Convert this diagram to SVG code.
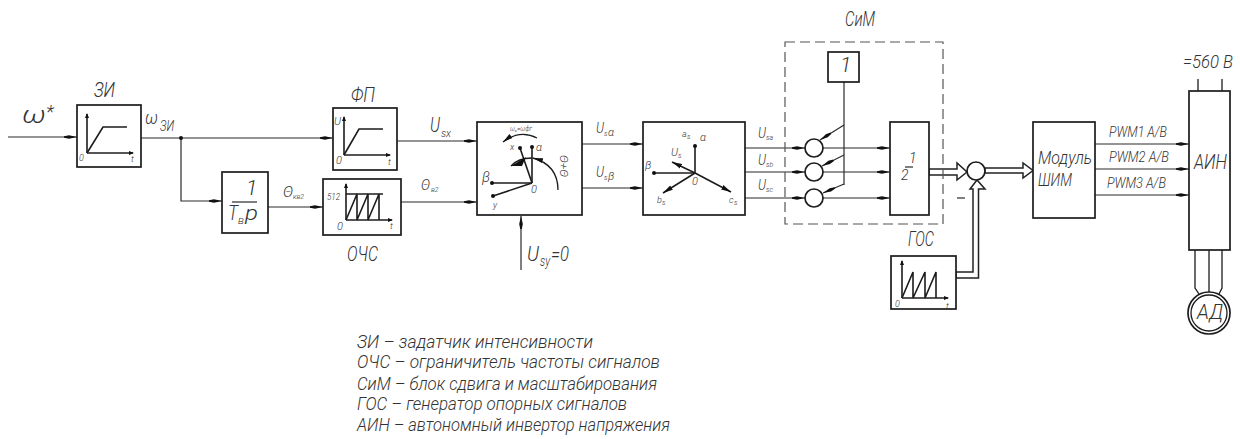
<svg xmlns="http://www.w3.org/2000/svg" width="1240" height="439" viewBox="0 0 1240 439">
<style>
text{font-family:"Roboto","Liberation Sans",sans-serif;font-style:italic;font-weight:300;fill:#333}
.f24{font-size:24px}.f20{font-size:21px}.f19{font-size:19px}.f17{font-size:18.500px}.f14{font-size:14px}.f11{font-size:11px}.f9{font-size:9px}.f7{font-size:7px}
.b{fill:#fff;stroke:#1c1c1c;stroke-width:1.7}
.l{fill:none;stroke:#2a2a2a;stroke-width:1.2}
.a{fill:none;stroke:#1c1c1c;stroke-width:1.3}
.g{fill:none;stroke:#1c1c1c;stroke-width:1.6}
.dbl{fill:#fff;stroke:#222;stroke-width:1.5}
.arr{marker-end:url(#ah)}
.ax{marker-end:url(#sm)}
.vec{marker-end:url(#vh)}
.dotv{marker-end:url(#dot)}
</style>
<defs>
<marker id="ah" markerUnits="userSpaceOnUse" markerWidth="14" markerHeight="6" refX="13" refY="3" orient="auto"><path d="M0 2.200L5 1.200L13 3L5 4.800L0 3.800Z" fill="#111"/></marker>
<marker id="sm" markerUnits="userSpaceOnUse" markerWidth="6" markerHeight="6" refX="4" refY="3" orient="auto"><path d="M0 1L5 3L0 5Z" fill="#111"/></marker>
<marker id="vh" markerUnits="userSpaceOnUse" markerWidth="12" markerHeight="8" refX="10" refY="4" orient="auto"><path d="M0 1.500L10 4L0 6.500Z" fill="#111"/></marker>
<marker id="dot" markerUnits="userSpaceOnUse" markerWidth="6" markerHeight="6" refX="3" refY="3"><circle cx="3" cy="3" r="2" fill="#111"/></marker>
</defs>
<g id="connectors">
<path class="l arr" d="M8 137H77"/>
<path class="l" d="M141 138H181"/>
<path class="l arr" d="M181 138H333"/>
<path class="l arr" d="M181 138V201H222"/>
<circle cx="181" cy="138" r="2" fill="#111"/>
<path class="l arr" d="M268 207H323"/>
<path class="l arr" d="M397 141H477"/>
<path class="l arr" d="M401 202H477"/>
<path class="l arr" d="M521 270V216"/>
<path class="l arr" d="M582 144H643"/>
<path class="l arr" d="M582 188H643"/>
<path class="l arr" d="M745 148H805"/>
<path class="l arr" d="M745 172H805"/>
<path class="l arr" d="M745 198H805"/>
<path class="l arr" d="M823 148H890"/>
<path class="l arr" d="M823 172H890"/>
<path class="l arr" d="M823 198H890"/>
<path class="l" d="M844 82V185"/>
<path class="l arr" d="M844 125L820 140"/>
<path class="l arr" d="M844 155L822 166"/>
<path class="l arr" d="M844 184L823 193"/>
<path class="dbl" d="M929 169H957V163L967 172L957 180V175H929Z"/>
<path class="dbl" d="M985 168H1023V163L1033 170.500L1023 178V173H985Z"/>
<path class="dbl" d="M956 272H973V189H970L977 180L985 189H978.500V278H956Z"/>
<path class="l arr" d="M1095 144H1189"/>
<path class="l arr" d="M1095 169H1189"/>
<path class="l arr" d="M1095 195H1189"/>
<path class="a" d="M1198 79V91M1222 79V91"/>
<path class="a" d="M1195 250V288L1199 294M1209 250V293M1222 250V288L1219 294"/>
</g>
<g id="node-zi">
<rect class="b" x="77" y="105" width="64" height="62"/>
<path class="g ax" d="M87 153V114"/><path class="g ax" d="M87 153H133"/><path class="g" d="M87 153L103 127H127"/>
<text class="f9" x="79" y="161">0</text><text class="f9" x="131" y="162">t</text>
<text class="f20" x="94" y="97" textLength="21" lengthAdjust="spacingAndGlyphs">ЗИ</text>
</g>
<g id="label-omega">
<text class="f24" x="22" y="123" textLength="24" lengthAdjust="spacingAndGlyphs">ω</text><text class="f17" x="46" y="118">*</text>
<text class="f19" x="145" y="124" textLength="13" lengthAdjust="spacingAndGlyphs">ω</text><text class="f14" x="160" y="131" textLength="14" lengthAdjust="spacingAndGlyphs">ЗИ</text>
</g>
<g id="node-int">
<rect class="b" x="222" y="172" width="46" height="61"/>
<path class="l" d="M232 202H257"/>
<text class="f20" x="246" y="195">1</text>
<text class="f20" x="228" y="220" textLength="10" lengthAdjust="spacingAndGlyphs">T</text><text class="f11" x="238" y="224" textLength="6" lengthAdjust="spacingAndGlyphs">в</text><text class="f20" x="245" y="220" textLength="13" lengthAdjust="spacingAndGlyphs">р</text>
</g>
<text class="f14" x="283" y="197" textLength="10" lengthAdjust="spacingAndGlyphs">Θ</text><text class="f7" x="293" y="199">кв2</text>
<g id="node-fp">
<rect class="b" x="333" y="108" width="64" height="62"/>
<path class="g ax" d="M344 155V117"/><path class="g ax" d="M344 155H390"/><path class="g" d="M344 155L359 129H383"/>
<text class="f11" x="334" y="125">U</text><text class="f11" x="336" y="164">0</text><text class="f9" x="388" y="165">t</text>
<text class="f20" x="351" y="102" textLength="24" lengthAdjust="spacingAndGlyphs">ФП</text>
</g>
<g id="node-ochs">
<rect class="b" x="323" y="179" width="78" height="56"/>
<path class="g ax" d="M346 220V184"/><path class="g ax" d="M346 220H392"/>
<path class="a" d="M346 194H383"/><path class="g" d="M346 220L357 194V220L368 194V220L379 194V220"/>
<text class="f9" x="327" y="200" textLength="13" lengthAdjust="spacingAndGlyphs">512</text><text class="f11" x="337" y="230">0</text><text class="f9" x="390" y="229">t</text>
<text class="f20" x="347" y="261" textLength="31" lengthAdjust="spacingAndGlyphs">ОЧС</text>
</g>
<text class="f20" x="430" y="132" textLength="10" lengthAdjust="spacingAndGlyphs">U</text><text class="f11" x="441" y="137" textLength="10" lengthAdjust="spacingAndGlyphs">sx</text>
<text class="f14" x="421" y="190" textLength="9" lengthAdjust="spacingAndGlyphs">Θ</text><text class="f7" x="431" y="192">в2</text>
<g id="node-abxy">
<rect class="b" x="477" y="122" width="105" height="93"/>
<path class="g dotv" d="M532 183V147"/><path class="g dotv" d="M532 183L520 148"/><path class="g dotv" d="M532 183H492"/><path class="g dotv" d="M532 183L493 196"/>
<path class="a vec" d="M537 138Q520 129 503 142"/>
<path class="a vec" d="M558 190Q558 165 533 158"/>
<path class="a" d="M532 158Q518 158 511 166"/>
<path d="M511 166L526 157L522 166Z" fill="#111"/>
<text class="f7" x="510" y="131" textLength="22" lengthAdjust="spacingAndGlyphs">ω₀=ωфг</text>
<text class="f9" x="510" y="150">x</text><text class="f11" x="536" y="151">α</text>
<text class="f14" x="482" y="182">β</text><text class="f9" x="493" y="208">y</text><text class="f11" x="531" y="193">0</text>
<text class="f11" transform="translate(560 155) rotate(90)" textLength="22" lengthAdjust="spacingAndGlyphs">Θ+Θ</text>
</g>
<text class="f20" x="527" y="261" textLength="12" lengthAdjust="spacingAndGlyphs">U</text><text class="f14" x="540" y="266" textLength="10" lengthAdjust="spacingAndGlyphs">sy</text><text class="f20" x="551" y="261" textLength="18" lengthAdjust="spacingAndGlyphs">=0</text>
<text class="f14" x="596" y="133" textLength="8" lengthAdjust="spacingAndGlyphs">U</text><text class="f7" x="604" y="136">s</text><text class="f11" x="608" y="136">α</text>
<text class="f14" x="596" y="177" textLength="8" lengthAdjust="spacingAndGlyphs">U</text><text class="f7" x="604" y="180">s</text><text class="f11" x="608" y="180">β</text>
<g id="node-abc">
<rect class="b" x="643" y="122" width="102" height="93"/>
<path class="g dotv" d="M695 173V146"/><path class="g dotv" d="M695 173H654"/>
<path class="g vec" d="M695 173L672 162"/><path class="g vec" d="M695 173L663 193"/><path class="g vec" d="M695 173L731 192"/>
<text class="f9" x="682" y="137">a</text><text class="f7" x="687" y="139">s</text><text class="f11" x="700" y="141">α</text>
<text class="f11" x="671" y="156">U</text><text class="f7" x="678" y="158">s</text><text class="f11" x="645" y="169">β</text><text class="f11" x="692" y="185">0</text>
<text class="f9" x="657" y="203">b</text><text class="f7" x="662" y="205">s</text><text class="f9" x="729" y="203">c</text><text class="f7" x="734" y="205">s</text>
</g>
<text class="f14" x="758" y="138" textLength="8" lengthAdjust="spacingAndGlyphs">U</text><text class="f7" x="766" y="140">sa</text>
<text class="f14" x="758" y="165" textLength="8" lengthAdjust="spacingAndGlyphs">U</text><text class="f7" x="766" y="167">sb</text>
<text class="f14" x="758" y="190" textLength="8" lengthAdjust="spacingAndGlyphs">U</text><text class="f7" x="766" y="192">sc</text>
<g id="node-sim">
<rect x="785" y="42" width="158" height="182" fill="none" stroke="#555" stroke-width="1.2" stroke-dasharray="10 5"/>
<text class="f20" x="845" y="26" textLength="30" lengthAdjust="spacingAndGlyphs">СиМ</text>
</g>
<g id="node-one"><rect class="b" x="828" y="52" width="31" height="30"/><text class="f20" x="840" y="72">1</text></g>
<g id="node-sum1"><circle class="b" cx="814" cy="148" r="9"/></g>
<g id="node-sum2"><circle class="b" cx="814" cy="172" r="9"/></g>
<g id="node-sum3"><circle class="b" cx="814" cy="198" r="9"/></g>
<g id="node-half">
<rect class="b" x="890" y="122" width="39" height="93"/>
<path class="l" d="M905 167H913"/>
<text class="f14" x="909" y="163">1</text><text class="f14" x="901" y="180">2</text>
</g>
<g id="node-sum"><circle class="b" cx="976" cy="171" r="9"/><path class="l" d="M957 198H965"/></g>
<g id="node-gos">
<rect class="b" x="891" y="256" width="65" height="53"/>
<path class="g ax" d="M902 298V261"/><path class="g ax" d="M902 298H948"/>
<path class="g" d="M902 298L913 272V298L925 272V298L936 272V298"/>
<text class="f9" x="895" y="307">0</text><text class="f9" x="946" y="309">t</text>
<text class="f20" x="908" y="246" textLength="26" lengthAdjust="spacingAndGlyphs">ГОС</text>
</g>
<g id="node-shim">
<rect class="b" x="1033" y="122" width="62" height="96"/>
<text class="f19" x="1038" y="164" textLength="54" lengthAdjust="spacingAndGlyphs">Модуль</text>
<text class="f19" x="1038" y="186" textLength="34" lengthAdjust="spacingAndGlyphs">ШИМ</text>
</g>
<text class="f14" x="1109" y="137" textLength="58" lengthAdjust="spacingAndGlyphs">PWM1 A/B</text>
<text class="f14" x="1109" y="162" textLength="60" lengthAdjust="spacingAndGlyphs">PWM2 A/B</text>
<text class="f14" x="1107" y="188" textLength="59" lengthAdjust="spacingAndGlyphs">PWM3 A/B</text>
<g id="node-ain">
<rect class="b" x="1189" y="91" width="41" height="159"/>
<text class="f20" x="1194" y="169" textLength="33" lengthAdjust="spacingAndGlyphs">АИН</text>
<text class="f19" x="1183" y="68" textLength="50" lengthAdjust="spacingAndGlyphs">=560 В</text>
</g>
<g id="node-ad">
<circle class="b" cx="1209" cy="313" r="21"/><circle class="a" cx="1209" cy="313" r="18"/>
<text class="f20" x="1197" y="319" textLength="26" lengthAdjust="spacingAndGlyphs">АД</text>
</g>
<g id="legend">
<text class="f17" x="357" y="348" textLength="236" lengthAdjust="spacingAndGlyphs">ЗИ – задатчик интенсивности</text>
<text class="f17" x="357" y="368" textLength="303" lengthAdjust="spacingAndGlyphs">ОЧС – ограничитель частоты сигналов</text>
<text class="f17" x="357" y="390" textLength="300" lengthAdjust="spacingAndGlyphs">СиМ – блок сдвига и масштабирования</text>
<text class="f17" x="357" y="410" textLength="270" lengthAdjust="spacingAndGlyphs">ГОС – генератор опорных сигналов</text>
<text class="f17" x="357" y="431" textLength="313" lengthAdjust="spacingAndGlyphs">АИН – автономный инвертор напряжения</text>
</g>
</svg>
